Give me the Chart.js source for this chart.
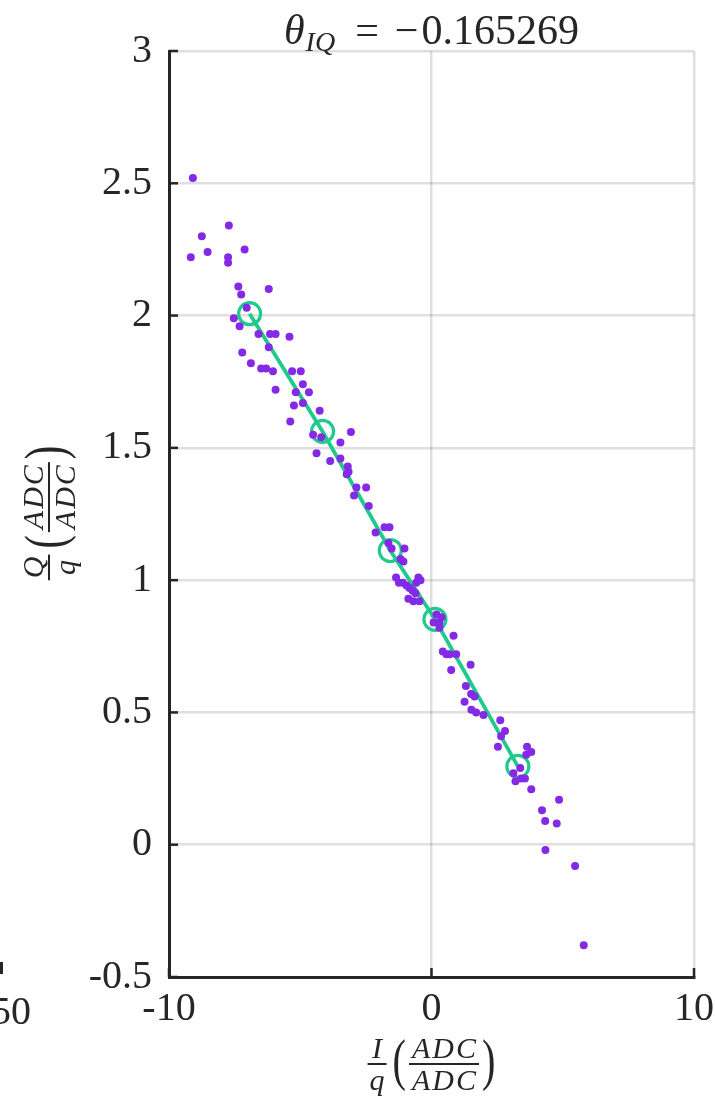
<!DOCTYPE html>
<html>
<head>
<meta charset="utf-8">
<script src="https://cdn.jsdelivr.net/npm/chart.js@4.4.1/dist/chart.umd.min.js"></script>
<style>
    html, body { margin: 0; padding: 0; background: #ffffff; }
    #grafica { display: block; }
</style>
</head>
<body>
<canvas id="grafica" width="715" height="1098"></canvas>
<script>
// Muestras I/q y Q/q
const puntosI = [
    -9.09, -7.72, -8.75, -8.53, -9.17, -7.75, -7.75, -7.12, -7.36, -7.25,
    -6.20, -7.04, -7.53, -7.31, -6.59, -6.15, -5.94, -5.41, -6.20, -7.21,
    -6.88, -6.49, -6.30, -6.04, -5.31, -4.98, -5.94, -5.17, -4.90, -4.67,
    -5.24, -4.90, -4.26, -5.38, -4.51, -4.20, -3.47, -3.07, -4.38, -3.86,
    -3.47, -3.19, -3.16, -3.23, -2.86, -2.49, -2.95, -2.39, -2.13, -1.79,
    -1.60, -1.64, -1.52, -1.03, -1.18, -1.07, -1.35, -1.24, -1.09, -0.50,
    -0.42, -0.95, -0.84, -0.58, -0.72, -0.61, -0.88, -0.69, -0.46, 0.19,
    0.38, 0.30, 0.08, 0.30, 0.84, 0.43, 0.57, 0.69, 0.94, 0.75,
    1.49, 1.31, 1.51, 1.64, 1.26, 1.52, 1.70, 1.98, 2.62, 2.80,
    2.65, 2.53, 3.64, 3.61, 3.80, 3.38, 3.12, 3.20, 3.42, 3.56,
    3.80, 4.86, 4.21, 4.33, 4.77, 4.34, 5.47, 5.80
];
const puntosQ = [
    2.52, 2.34, 2.30, 2.24, 2.22, 2.22, 2.20, 2.25, 2.11, 2.08,
    2.10, 2.03, 1.99, 1.96, 1.93, 1.93, 1.93, 1.92, 1.88, 1.86,
    1.82, 1.80, 1.80, 1.79, 1.79, 1.79, 1.72, 1.71, 1.74, 1.71,
    1.66, 1.67, 1.64, 1.60, 1.55, 1.54, 1.52, 1.56, 1.48, 1.45,
    1.46, 1.43, 1.41, 1.40, 1.35, 1.35, 1.32, 1.28, 1.18, 1.20,
    1.20, 1.14, 1.12, 1.12, 1.08, 1.07, 1.01, 0.99, 0.99, 1.01,
    1.00, 0.98, 0.97, 0.99, 0.96, 0.95, 0.93, 0.92, 0.92, 0.87,
    0.86, 0.84, 0.84, 0.82, 0.79, 0.73, 0.72, 0.72, 0.72, 0.66,
    0.68, 0.60, 0.57, 0.56, 0.54, 0.51, 0.50, 0.49, 0.47, 0.43,
    0.41, 0.37, 0.37, 0.34, 0.35, 0.29, 0.27, 0.24, 0.25, 0.25,
    0.21, 0.17, 0.13, 0.09, 0.08, -0.02, -0.08, -0.38
];

// Ajuste (centros marcados con circulo)
const ajusteI = [-6.93, -4.15, -1.57, 0.13, 3.29];
const ajusteQ = [2.007, 1.562, 1.112, 0.852, 0.296];

// Ticks de los ejes
const ticksI = [-10, 0, 10];
const ticksQ = [-0.5, 0, 0.5, 1, 1.5, 2, 2.5, 3];

const anguloIQ = -0.165269;

const colorTexto = "#262626";
const colorPuntos = "#842AE6";
const colorAjuste = "#20C98C";
const colorRejilla = "rgba(38,38,38,0.15)";
const fuenteSerif = "'Liberation Serif', 'DejaVu Serif', serif";

const ctxGrafica = document.getElementById("grafica");

// =========================
//   Texto con fracciones
// =========================
function dibujarParentesis(c, signo, x, base) {
    c.save();
    c.font = "56px " + fuenteSerif;
    c.letterSpacing = "0px";
    c.textAlign = "left";
    c.translate(x, base);
    c.scale(0.72, 1);
    c.fillText(signo, 0, 0);
    c.restore();
}

function dibujarEtiqueta(c, letra, cx, cy) {
    const fuenteFrac = "italic 30px " + fuenteSerif;

    c.font = fuenteFrac;
    c.letterSpacing = "2px";
    const wLetra = Math.max(c.measureText(letra).width, c.measureText("q").width) + 2;
    const wADC = c.measureText("ADC").width + 4;
    c.font = "56px " + fuenteSerif;
    c.letterSpacing = "0px";
    const wParen = c.measureText("(").width * 0.72;

    const total = wLetra + 6 + wParen + 3 + wADC + 3 + wParen;
    let x = cx - total / 2;

    // letra / q
    c.font = fuenteFrac;
    c.letterSpacing = "2px";
    c.textAlign = "center";
    c.textBaseline = "alphabetic";
    c.fillText(letra, x + wLetra / 2 + 1, cy - 6);
    c.fillText("q", x + wLetra / 2 + 1, cy + 26);
    c.fillRect(x, cy - 1, wLetra, 2);
    x += wLetra + 6;

    dibujarParentesis(c, "(", x, cy + 15);
    x += wParen + 3;

    c.font = fuenteFrac;
    c.letterSpacing = "2px";
    c.textAlign = "center";
    c.fillText("ADC", x + wADC / 2 + 1, cy - 6);
    c.fillText("ADC", x + wADC / 2 + 1, cy + 26);
    c.fillRect(x, cy - 1, wADC, 2);
    x += wADC + 3;

    dibujarParentesis(c, ")", x, cy + 15);
}

function dibujarTitulo(c, cx, base) {
    const fuenteGrande = "42px " + fuenteSerif;
    const fuenteItal = "italic 42px " + fuenteSerif;
    const fuenteSub = "italic 28px " + fuenteSerif;
    const valor = Math.abs(anguloIQ).toString();

    const partes = [
        { texto: "θ", fuente: fuenteItal, dy: 0, gap: 1 },
        { texto: "IQ", fuente: fuenteSub, dy: 7, gap: 20 },
        { texto: "=", fuente: fuenteGrande, dy: 0, gap: 16 },
        { texto: anguloIQ < 0 ? "−" : "", fuente: fuenteGrande, dy: 0, gap: 3 },
        { texto: valor, fuente: fuenteGrande, dy: 0, gap: 0 }
    ];

    let total = 0;
    partes.forEach(p => {
        c.font = p.fuente;
        p.ancho = c.measureText(p.texto).width;
        total += p.ancho + p.gap;
    });

    let x = cx - total / 2;
    c.textAlign = "left";
    c.textBaseline = "alphabetic";
    partes.forEach(p => {
        c.font = p.fuente;
        c.fillText(p.texto, x, base + p.dy);
        x += p.ancho + p.gap;
    });
}

// Marcas hacia adentro, titulo y etiquetas de ejes
const decoracion = {
    id: "decoracion",
    afterDraw(chart) {
        const c = chart.ctx;
        const area = chart.chartArea;
        const ejeX = chart.scales.x;
        const ejeY = chart.scales.y;

        c.save();
        c.strokeStyle = colorTexto;
        c.fillStyle = colorTexto;
        c.lineWidth = 2.5;

        ejeY.ticks.forEach(t => {
            const y = ejeY.getPixelForValue(t.value);
            c.beginPath();
            c.moveTo(area.left, y);
            c.lineTo(area.left + 9, y);
            c.stroke();
        });
        ejeX.ticks.forEach(t => {
            const x = ejeX.getPixelForValue(t.value);
            c.beginPath();
            c.moveTo(x, area.bottom);
            c.lineTo(x, area.bottom - 9);
            c.stroke();
        });

        dibujarTitulo(c, (area.left + area.right) / 2, 44);

        dibujarEtiqueta(c, "I", (area.left + area.right) / 2, 1064);

        c.save();
        c.translate(49, 513);
        c.rotate(-Math.PI / 2);
        dibujarEtiqueta(c, "Q", 0, 0);
        c.restore();

        // resto del eje vecino a la izquierda
        c.font = "40px " + fuenteSerif;
        c.letterSpacing = "0px";
        c.textAlign = "right";
        c.textBaseline = "alphabetic";
        c.fillText("50", 31, 1024);
        c.fillRect(0, 962, 3, 12);

        c.restore();
    }
};

const formatoTick = valor => valor.toString();

new Chart(ctxGrafica, {
    type: "scatter",
    data: {
        datasets: [
            {
                label: "muestras",
                data: puntosI.map((x, i) => ({ x: x, y: puntosQ[i] })),
                pointRadius: 4,
                pointBackgroundColor: colorPuntos,
                pointBorderWidth: 0,
                order: 0
            },
            {
                label: "ajuste",
                type: "line",
                data: ajusteI.map((x, i) => ({ x: x, y: ajusteQ[i] })),
                borderColor: colorAjuste,
                borderWidth: 3.8,
                pointRadius: 11,
                pointBorderWidth: 3.2,
                pointBorderColor: colorAjuste,
                pointBackgroundColor: "rgba(0,0,0,0)",
                fill: false,
                tension: 0,
                order: 1
            }
        ]
    },
    options: {
        responsive: false,
        animation: false,
        devicePixelRatio: 1,
        layout: { padding: { top: 51, right: 21, left: 0, bottom: 0 } },
        plugins: {
            legend: { display: false },
            tooltip: { enabled: false }
        },
        scales: {
            x: {
                type: "linear",
                min: -10,
                max: 10,
                afterBuildTicks: eje => { eje.ticks = ticksI.map(v => ({ value: v })); },
                afterFit: eje => {
                    eje.height = 121;
                    eje.paddingLeft = 0;
                    eje.paddingRight = 0;
                },
                ticks: {
                    color: colorTexto,
                    font: { family: fuenteSerif, size: 40 },
                    padding: 8,
                    maxRotation: 0,
                    autoSkip: false,
                    callback: formatoTick
                },
                grid: { color: colorRejilla, lineWidth: 2.5, drawTicks: false },
                border: { display: true, color: colorTexto, width: 3 }
            },
            y: {
                type: "linear",
                min: -0.5,
                max: 3,
                afterBuildTicks: eje => { eje.ticks = ticksQ.map(v => ({ value: v })); },
                afterFit: eje => {
                    eje.width = 169;
                    eje.paddingTop = 0;
                    eje.paddingBottom = 0;
                },
                ticks: {
                    color: colorTexto,
                    font: { family: fuenteSerif, size: 40 },
                    padding: 17,
                    autoSkip: false,
                    callback: formatoTick
                },
                grid: { color: colorRejilla, lineWidth: 2.5, drawTicks: false },
                border: { display: true, color: colorTexto, width: 3 }
            }
        }
    },
    plugins: [decoracion]
});
</script>
</body>
</html>
